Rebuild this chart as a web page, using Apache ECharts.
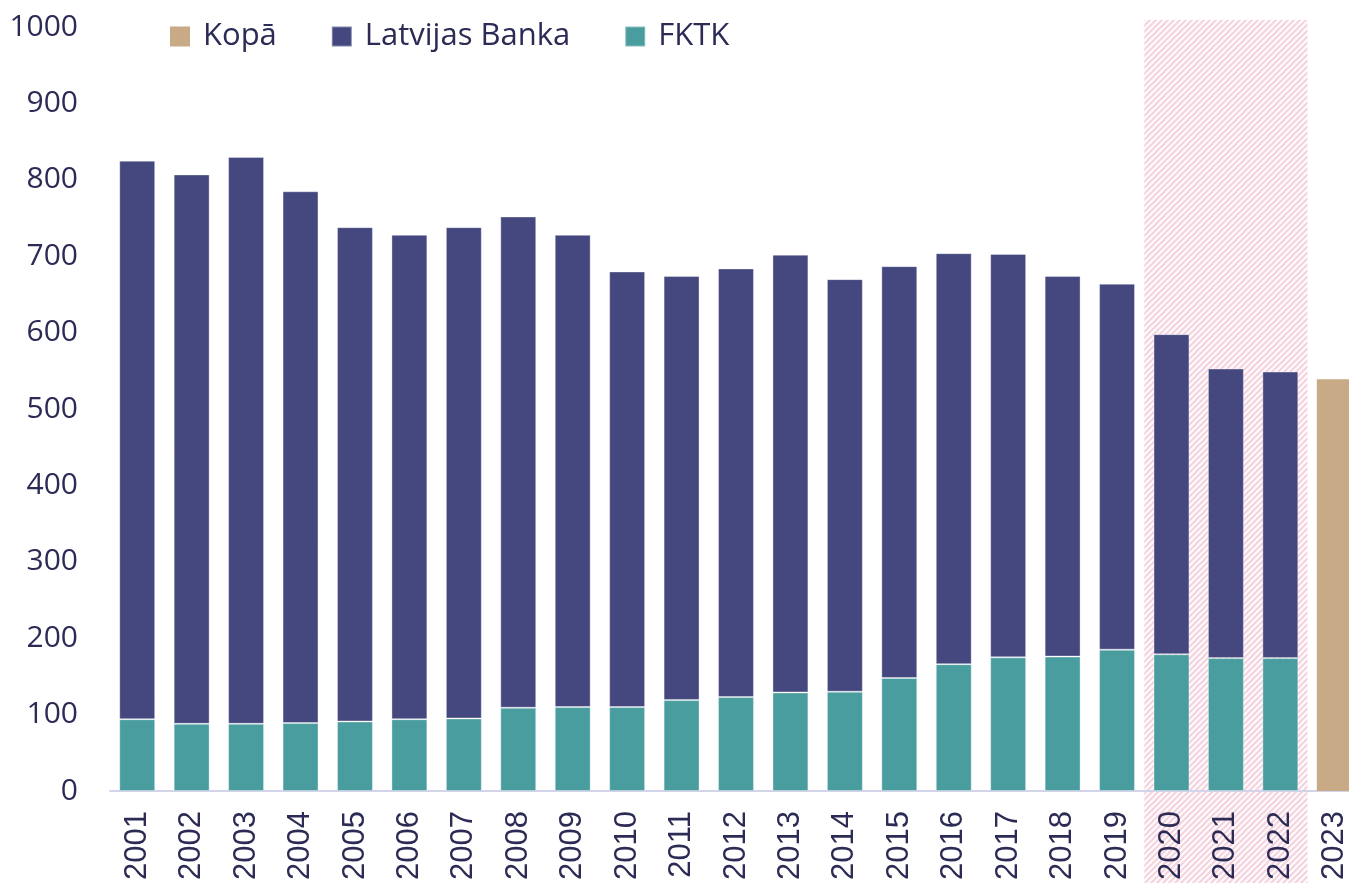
<!DOCTYPE html>
<html>
<head>
<meta charset="utf-8">
<script src="https://cdn.jsdelivr.net/npm/echarts@6/dist/echarts.min.js"></script>
<style>
html, body { margin: 0; padding: 0; background: #fff; overflow: hidden; }
/* the plot runs a little past the right edge of the window, as in the source */
#chart { width: 1362px; height: 883px; }
</style>
</head>
<body>
<div id="chart"></div>
<script>
// data
const years = ['2001', '2002', '2003', '2004', '2005', '2006', '2007', '2008', '2009', '2010', '2011',
    '2012', '2013', '2014', '2015', '2016', '2017', '2018', '2019', '2020', '2021', '2022', '2023'];
const fktk = [94, 88, 88, 89, 91, 94, 95, 109, 110, 110, 119, 123, 129, 130, 148, 166, 175, 176, 185, 179, 174, 174, '-'];
const latvijasBanka = [731, 719, 742, 696, 647, 634, 643, 643, 618, 570, 555, 561, 573, 540, 539, 538, 528, 498, 479, 419, 379, 375, '-'];
const kopa = ['-', '-', '-', '-', '-', '-', '-', '-', '-', '-', '-', '-', '-', '-', '-', '-', '-', '-', '-', '-', '-', '-', 539];
const hatchFrom = '2020';
const hatchTo = '2022';

const textColor = '#2b2b55';

// pink diagonal hatch
function hatchPattern() {
    const c = document.createElement('canvas');
    c.width = 6; c.height = 6;
    const ctx = c.getContext('2d');
    ctx.strokeStyle = '#f5d5e0';
    ctx.lineWidth = 2.4;
    ctx.beginPath();
    ctx.moveTo(-1, 7); ctx.lineTo(7, -1);
    ctx.moveTo(-4, 4); ctx.lineTo(4, -4);
    ctx.moveTo(2, 10); ctx.lineTo(10, 2);
    ctx.stroke();
    return c;
}

const chart = echarts.init(document.getElementById('chart'));
const option = {
    animation: false,
    textStyle: { fontFamily: 'Open Sans', color: textColor },
    legend: {
        data: ['Kopā', 'Latvijas Banka', 'FKTK'],
        left: 165,
        top: 16,
        itemWidth: 20,
        itemHeight: 20,
        itemGap: 54,
        icon: 'rect',
        textStyle: { fontSize: 31, color: textColor, fontFamily: 'Open Sans', padding: [0, 0, 0, 8] }
    },
    grid: { left: 110, top: 27, right: 0, bottom: 91 },
    xAxis: {
        type: 'category',
        data: years,
        axisLine: { lineStyle: { color: '#d3d4ea', width: 2 } },
        axisTick: { show: false },
        axisLabel: { rotate: 90, fontSize: 31, color: textColor, fontFamily: 'Liberation Sans', margin: 20 }
    },
    yAxis: {
        type: 'value',
        min: 0,
        max: 1000,
        interval: 100,
        splitLine: { show: false },
        axisLabel: { fontSize: 30, color: textColor, fontFamily: 'Open Sans', margin: 32, formatter: v => String(v) }
    },
    series: [
        {
            name: 'FKTK', type: 'bar', stack: 'total', barWidth: '66%', data: fktk,
            itemStyle: { color: '#4a9d9f', borderColor: 'rgba(255,255,255,0.35)', borderWidth: 1 }
        },
        {
            name: 'Latvijas Banka', type: 'bar', stack: 'total', data: latvijasBanka,
            itemStyle: { color: '#45487f', borderColor: 'rgba(255,255,255,0.35)', borderWidth: 1 }
        },
        {
            name: 'Kopā', type: 'bar', stack: 'total', data: kopa,
            itemStyle: { color: '#c9aa86' }
        }
    ]
};
chart.setOption(option);

// hatched band behind 2020-2022, from the axis scale
const x0 = chart.convertToPixel({ xAxisIndex: 0 }, hatchFrom);
const x1 = chart.convertToPixel({ xAxisIndex: 0 }, hatchTo);
const band = chart.convertToPixel({ xAxisIndex: 0 }, years[1]) - chart.convertToPixel({ xAxisIndex: 0 }, years[0]);
chart.setOption({
    graphic: [{
        type: 'rect',
        z: -10,
        silent: true,
        shape: { x: x0 - band / 2, y: 20, width: x1 - x0 + band, height: 883 - 20 },
        style: { fill: { image: hatchPattern(), repeat: 'repeat' } }
    }]
});
</script>
</body>
</html>
